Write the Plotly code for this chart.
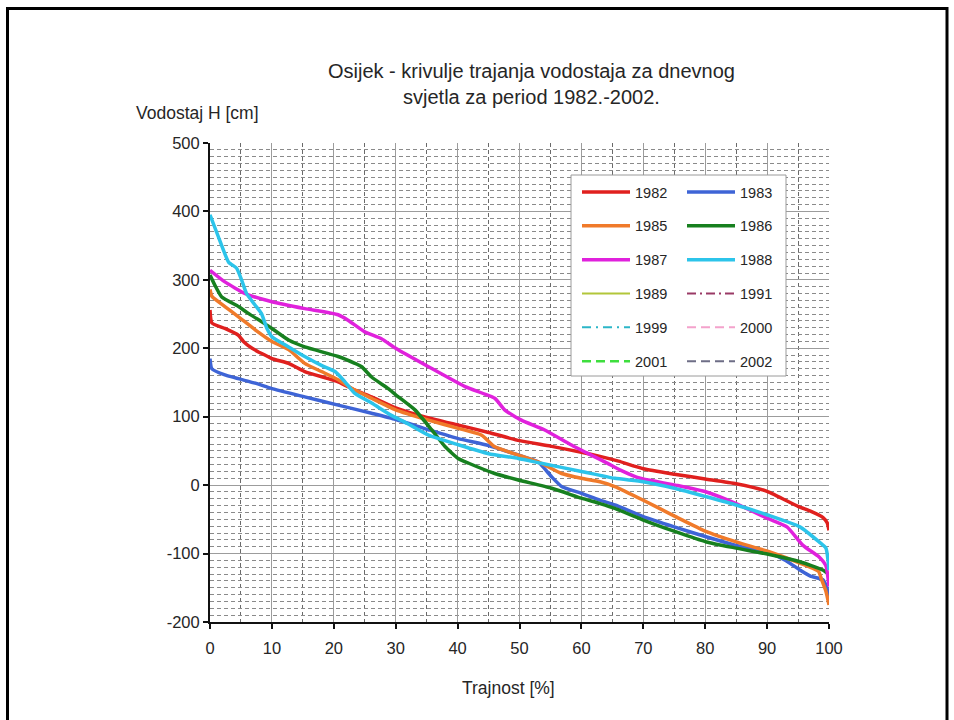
import plotly.graph_objects as go

# ---------------- data ----------------
x1982 = [0, 0.3, 2.4, 4.6, 5.4, 6.8, 10, 12.7, 15.3, 20.7, 23.4, 26.1, 30, 35, 40, 45, 50, 55, 60, 63, 66, 70, 75, 80, 85, 90, 95, 97, 99, 99.7, 100]
y1982 = [256, 237, 229, 219, 210, 200, 185, 178, 166, 151, 139, 129, 113, 99, 88, 77, 65, 57, 48, 42, 35, 24, 16, 9, 2, -9, -31, -38, -47, -55, -66]

x1983 = [0, 0.3, 2.4, 7.3, 10, 15.3, 20.7, 26.1, 30, 35.3, 40.1, 45, 49.8, 53, 55.2, 56.8, 60, 63, 65.4, 70, 75, 80, 85, 90.2, 93, 95.3, 97, 99, 99.6, 100]
y1983 = [185, 170, 161, 149, 141, 129, 117, 105, 96, 81, 68, 58, 44, 34, 12, -2, -12, -22, -29, -46, -61, -75, -88, -99, -110, -124, -133, -138, -148, -163]

x1985 = [0, 0.3, 2.4, 4.6, 7.3, 10, 12.7, 15.3, 18, 20.7, 23.4, 26.1, 30, 35.3, 40.1, 43.9, 46, 49.8, 53.5, 56.8, 60, 63, 65.4, 70, 75.2, 80.2, 85, 90.2, 95.3, 98.3, 98.8, 99.5, 100]
y1985 = [286, 276, 261, 246, 227, 210, 198, 178, 166, 154, 139, 127, 110, 95, 83, 73, 56, 44, 32, 17, 10, 5, -2, -22, -46, -68, -83, -97, -114, -126, -138, -155, -175]

x1986 = [0, 0.8, 1.9, 4.6, 6.2, 8.3, 10, 12.7, 15.3, 20.7, 23.4, 24.5, 26.1, 28.8, 30, 33.1, 35.8, 38, 40.1, 41.8, 46, 49.8, 55.2, 60, 63, 65.4, 70, 75.2, 80.2, 85, 90.2, 95.3, 99, 100]
y1986 = [307, 292, 275, 261, 251, 239, 229, 212, 202, 188, 178, 173, 158, 141, 132, 110, 81, 56, 39, 32, 17, 7.5, -4.6, -19, -27, -34, -51, -68, -83, -92, -101, -112, -124, -131]

x1987 = [0, 2.4, 5.7, 10, 15.3, 20.7, 22.3, 25, 27.7, 30, 35.3, 41.2, 46, 47.6, 50.3, 54, 58.3, 62, 64, 66.3, 69.5, 75.2, 80.2, 85, 90.2, 93.2, 95.8, 98.4, 99.5, 100]
y1987 = [314, 297, 280, 268, 258, 249, 241, 224, 214, 200, 173, 144, 127, 110, 95, 81, 59, 42, 33, 22, 10, 0, -10, -27, -49, -61, -88, -105, -118, -148]

x1988 = [0, 1.35, 3, 4.3, 5.1, 5.9, 7.3, 8.3, 9.2, 10, 12.7, 15.3, 18, 20.2, 21.8, 23.4, 26.1, 29.3, 31.5, 35.3, 40.1, 45, 49.8, 53.5, 60, 65.4, 70, 75.2, 80.2, 85, 90.2, 95.3, 98.4, 99.5, 100]
y1988 = [395, 363, 326, 317, 300, 280, 263, 251, 229, 217, 202, 188, 175, 166, 151, 134, 120, 102, 92, 73, 59, 46, 39, 32, 20, 10, 5, -5, -17, -29, -44, -61, -83, -92, -124]

# years that appear only in the legend (no visible data in the reference)
x_empty = [None]
y_empty = [None]

x_ticks = [0, 10, 20, 30, 40, 50, 60, 70, 80, 90, 100]
y_ticks = [-200, -100, 0, 100, 200, 300, 400, 500]

title_text = "Osijek - krivulje trajanja vodostaja za dnevnog<br>svjetla za period 1982.-2002."
ytitle_text = "Vodostaj H [cm]"
xtitle_text = "Trajnost [%]"

# ---------------- styles ----------------
FONT = "Liberation Sans, Arial, sans-serif"
TXT = "#262626"

series = [
    # name, x, y, color, width, dash, legend
    ("1982", x1982, y1982, "#e0201e", 3.5, "solid", "legend"),
    ("1983", x1983, y1983, "#3e64d6", 3.5, "solid", "legend2"),
    ("1985", x1985, y1985, "#f07a2a", 3.5, "solid", "legend"),
    ("1986", x1986, y1986, "#17801f", 3.5, "solid", "legend2"),
    ("1987", x1987, y1987, "#e021dc", 3.5, "solid", "legend"),
    ("1988", x1988, y1988, "#2cc4ea", 3.5, "solid", "legend2"),
    ("1989", x_empty, y_empty, "#b2c63a", 2, "solid", "legend"),
    ("1991", x_empty, y_empty, "#9a3a66", 2, "9px,4px,2px,4px", "legend2"),
    ("1999", x_empty, y_empty, "#2cb6c8", 2, "9px,5px,2px,5px", "legend"),
    ("2000", x_empty, y_empty, "#f4a2cc", 2, "9px,5px", "legend2"),
    ("2001", x_empty, y_empty, "#3ede3e", 2.5, "9px,5px", "legend"),
    ("2002", x_empty, y_empty, "#6e6e86", 2, "9px,5px", "legend2"),
]

fig = go.Figure()
for name, xs, ys, color, w, dash, lg in series:
    fig.add_trace(go.Scatter(
        x=xs, y=ys, mode="lines", name=name,
        line=dict(color=color, width=w, dash=dash, shape="spline", smoothing=0.5),
        legend=lg, legendgroup=name, showlegend=True,
        hoverinfo="skip",
    ))

W, H = 954, 720
L, R, T, B = 210, 125, 143, 98
pw, ph = W - L - R, H - T - B

def px(xpix):
    return (xpix - L) / pw

def py(ypix):
    return (H - B - ypix) / ph

legend_common = dict(
    font=dict(family=FONT, size=14.5, color=TXT),
    bgcolor="rgba(0,0,0,0)",
    borderwidth=0,
    xanchor="left", yanchor="top",
    itemwidth=48,
    tracegroupgap=12,
    itemclick=False, itemdoubleclick=False,
)

fig.update_layout(
    width=W, height=H,
    margin=dict(l=L, r=R, t=T, b=B, autoexpand=False),
    paper_bgcolor="white", plot_bgcolor="white",
    font=dict(family=FONT, color=TXT),
    showlegend=True,
    legend=dict(legend_common, x=px(577), y=py(176)),
    legend2=dict(legend_common, x=px(682), y=py(176)),
    xaxis=dict(
        range=[0, 100], tickvals=x_ticks, ticktext=[str(v) for v in x_ticks],
        showgrid=True, gridcolor="#9c9c9c", gridwidth=1,
        minor=dict(dtick=5, tick0=0, showgrid=True, gridcolor="#6a6a6a", griddash="4px,3px", gridwidth=1),
        showline=True, linecolor="#111", linewidth=2,
        ticks="outside", ticklen=5, tickcolor="#111", tickwidth=1.5,
        ticklabelstandoff=5,
        tickfont=dict(family=FONT, size=16.5, color=TXT),
        zeroline=False, fixedrange=True,
    ),
    yaxis=dict(
        range=[-200, 500], tickvals=y_ticks, ticktext=[str(v) for v in y_ticks],
        showgrid=True, gridcolor="#9c9c9c", gridwidth=1,
        minor=dict(dtick=10, tick0=0, showgrid=True, gridcolor="#8a8a8a", griddash="4px,3px", gridwidth=1),
        showline=True, linecolor="#111", linewidth=2,
        ticks="outside", ticklen=5, tickcolor="#111", tickwidth=1.5,
        tickfont=dict(family=FONT, size=16.5, color=TXT),
        zeroline=False, fixedrange=True,
    ),
    shapes=[
        # legend frame
        dict(type="rect", xref="paper", yref="paper",
             x0=px(571), x1=px(786), y0=py(376), y1=py(175),
             fillcolor="white", line=dict(color="#9a9a9a", width=1), layer="above"),
        # outer frame of the picture
        dict(type="rect", xref="paper", yref="paper",
             x0=px(7.5), x1=px(947), y0=py(735), y1=py(8.5),
             fillcolor="rgba(0,0,0,0)", line=dict(color="#000", width=3), layer="above"),
    ],
    annotations=[
        dict(text=title_text, xref="paper", yref="paper", x=px(531), y=py(58),
             xanchor="center", yanchor="top", showarrow=False, align="center",
             font=dict(family=FONT, size=20, color=TXT)),
        dict(text=ytitle_text, xref="paper", yref="paper", x=px(134), y=py(113),
             xanchor="left", yanchor="middle", showarrow=False,
             font=dict(family=FONT, size=17.5, color=TXT)),
        dict(text=xtitle_text, xref="paper", yref="paper", x=px(508), y=py(688),
             xanchor="center", yanchor="middle", showarrow=False,
             font=dict(family=FONT, size=17.5, color=TXT)),
    ],
)

fig.write_html("out.html")
